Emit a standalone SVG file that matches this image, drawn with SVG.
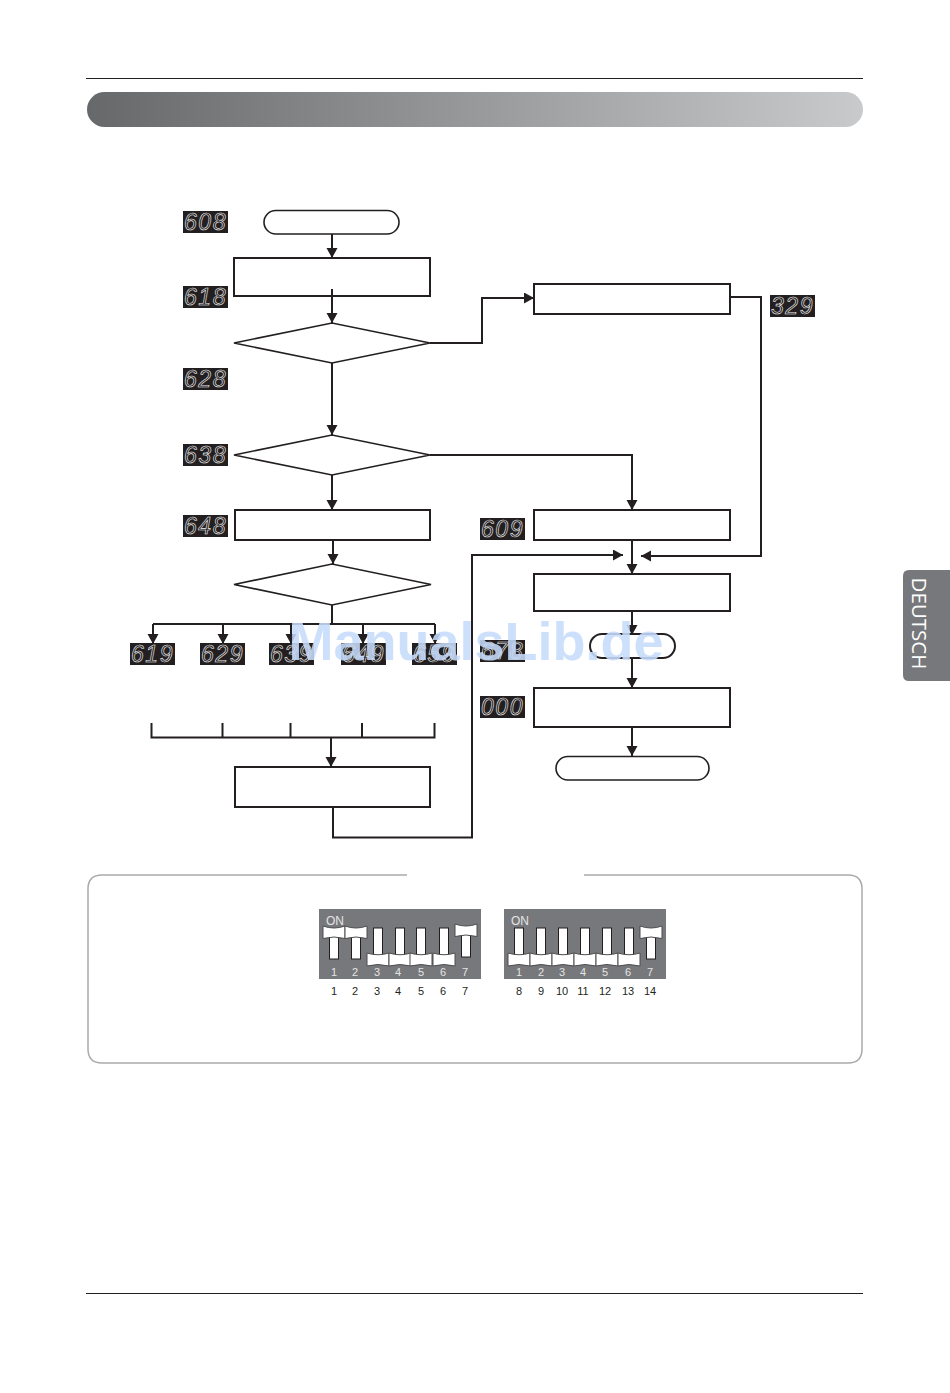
<svg xmlns="http://www.w3.org/2000/svg" width="950" height="1393" viewBox="0 0 950 1393">
<defs>
<linearGradient id="hg" x1="0" x2="1" y1="0" y2="0"><stop offset="0" stop-color="#67686a"/><stop offset="1" stop-color="#c9cacc"/></linearGradient>
<marker id="ah" markerUnits="userSpaceOnUse" markerWidth="12" markerHeight="12" refX="10" refY="5.500" orient="auto"><path d="M0 0L10 5.500L0 11Z" fill="#231f20"/></marker>
<g id="sw-on"><rect x="-4.500" y="8" width="9" height="23" fill="#fff" stroke="#231f20" stroke-width="1"/><path d="M-11 -2Q0 2 11 -2V10.500Q0 7.500 -11 10.500Z" fill="#fff" stroke="#4d4d4f" stroke-width="1"/></g>
<g id="sw-off"><rect x="-4.500" y="0" width="9" height="28" fill="#fff" stroke="#231f20" stroke-width="1"/><path d="M-11 25Q0 28.500 11 25V38Q0 35 -11 38Z" fill="#fff" stroke="#4d4d4f" stroke-width="1"/></g>
</defs>
<style>
.n{fill:#fff;stroke:#231f20;stroke-width:2}
.t{fill:#fff;stroke:#231f20;stroke-width:1.600}
.c{fill:none;stroke:#231f20;stroke-width:2}
.a{marker-end:url(#ah)}
.bg{fill:#231f20}
.bt{font-family:"Liberation Sans Narrow","Liberation Sans",sans-serif;font-style:italic;font-size:23px;letter-spacing:1.500px;fill:#231f20;stroke:#f4f4f4;stroke-width:.6;text-anchor:middle;opacity:.99}
.d{font-family:"Liberation Sans",sans-serif;font-size:11px;text-anchor:middle}
.on{font-size:12px}
.dw{fill:#e4e4e6}
.dk{fill:#231f20}
</style>
<rect width="950" height="1393" fill="#fff"/>
<g id="page">
<path d="M86 78.500H863M86 1293.500H863" stroke="#231f20" stroke-width="1"/>
<rect x="87" y="92" width="776" height="35" rx="17.500" fill="url(#hg)"/>
<path id="notebox" d="M407 875H102Q88 875 88 889V1049Q88 1063 102 1063H848Q862 1063 862 1049V889Q862 875 848 875H584" fill="none" stroke="#a9aaac" stroke-width="1.500"/>
<g id="tab"><path d="M950 570H909Q903 570 903 576V675Q903 681 909 681H950Z" fill="#77787b"/>
<text transform="translate(912 623.500) rotate(90)" font-family="'Open Sans','Liberation Sans',sans-serif" font-size="20.500" fill="#fff" text-anchor="middle">DEUTSCH</text></g>
</g>
<g id="connectors">
<path class="c a" d="M332 234V258"/>
<path class="c a" d="M332 289V323"/>
<path class="c a" d="M332 363V435"/>
<path class="c a" d="M332 475V510"/>
<path class="c a" d="M333 540V564"/>
<path class="c" d="M332 605V624"/>
<path class="c" d="M153 624H435"/>
<path class="c a" d="M153 624V644"/>
<path class="c a" d="M223 624V644"/>
<path class="c a" d="M291 624V644"/>
<path class="c a" d="M363 624V644"/>
<path class="c a" d="M435 624V644"/>
<path class="c" d="M151.500 723V737.500H434.500V723M222.500 723V737M290.500 723V737M362 723V737" stroke-width="1.600"/>
<path class="c a" d="M331 737V767"/>
<path class="c a" d="M430 343H482V298H534"/>
<path class="c a" d="M430 455H632V510"/>
<path class="c a" d="M333 807V837.500H472V555H623"/>
<path class="c a" d="M730 297H761V556H641"/>
<path class="c a" d="M632 540V574"/>
<path class="c a" d="M632 611V635"/>
<path class="c a" d="M632 657V688"/>
<path class="c a" d="M632 727V756"/>
</g>
<g id="start"><rect class="t" x="264" y="210.500" width="135" height="23.500" rx="11.750"/></g>
<g id="box1"><rect class="n" x="234" y="258" width="196" height="38" fill-opacity="0"/></g>
<g id="dec1"><polygon class="t" points="234,343 332,323 430,343 332,363"/></g>
<g id="dec2"><polygon class="t" points="234,455 332,435 430,455 332,475"/></g>
<g id="box2"><rect class="n" x="235" y="510" width="195" height="30"/></g>
<g id="dec3"><polygon class="t" points="234,584.500 332,564 431,584.500 332,605"/></g>
<g id="box3"><rect class="n" x="235" y="767" width="195" height="40"/></g>
<g id="box4"><rect class="n" x="534" y="284" width="196" height="30"/></g>
<g id="box5"><rect class="n" x="534" y="510" width="196" height="30"/></g>
<g id="box6"><rect class="n" x="534" y="574" width="196" height="37"/></g>
<g id="pill1"><rect class="c" x="590" y="634" width="85" height="24" rx="12" stroke-width="1.600"/></g>
<g id="box7"><rect class="n" x="534" y="688" width="196" height="39"/></g>
<g id="end"><rect class="t" x="556" y="756.500" width="153" height="23.500" rx="11.750"/></g>
<g id="badges">
<rect class="bg" x="183" y="211" width="45" height="22"/><text class="bt" x="205.500" y="230">608</text>
<rect class="bg" x="183" y="286" width="45" height="22"/><text class="bt" x="205.500" y="305">618</text>
<rect class="bg" x="183" y="368" width="45" height="22"/><text class="bt" x="205.500" y="387">628</text>
<rect class="bg" x="183" y="444" width="45" height="22"/><text class="bt" x="205.500" y="463">638</text>
<rect class="bg" x="183" y="515" width="45" height="22"/><text class="bt" x="205.500" y="534">648</text>
<rect class="bg" x="770" y="295" width="45" height="22"/><text class="bt" x="792.500" y="314">329</text>
<rect class="bg" x="480" y="518" width="45" height="22"/><text class="bt" x="502.500" y="537">609</text>
<rect class="bg" x="130" y="643" width="45" height="22"/><text class="bt" x="152.500" y="662">619</text>
<rect class="bg" x="200" y="643" width="45" height="22"/><text class="bt" x="222.500" y="662">629</text>
<rect class="bg" x="269" y="643" width="45" height="22"/><text class="bt" x="291.500" y="662">639</text>
<rect class="bg" x="341" y="643" width="45" height="22"/><text class="bt" x="363.500" y="662">649</text>
<rect class="bg" x="412" y="643" width="45" height="22"/><text class="bt" x="434.500" y="662">659</text>
<rect class="bg" x="480" y="640" width="45" height="22"/><text class="bt" x="502.500" y="659">678</text>
<rect class="bg" x="480" y="696" width="45" height="22"/><text class="bt" x="502.500" y="715">000</text>
</g>
<g id="dip1">
<rect x="319" y="909" width="162" height="70" fill="#77787b"/>
<text class="d dw on" x="335" y="925">ON</text>
<use href="#sw-on" x="334" y="928"/><use href="#sw-on" x="356" y="928"/><use href="#sw-off" x="378" y="928"/><use href="#sw-off" x="400" y="928"/><use href="#sw-off" x="421" y="928"/><use href="#sw-off" x="444" y="928"/><use href="#sw-on" x="466" y="926"/>
<g class="d dw"><text x="334" y="976">1</text><text x="355" y="976">2</text><text x="377" y="976">3</text><text x="398" y="976">4</text><text x="421" y="976">5</text><text x="443" y="976">6</text><text x="465" y="976">7</text></g>
<g class="d dk"><text x="334" y="995">1</text><text x="355" y="995">2</text><text x="377" y="995">3</text><text x="398" y="995">4</text><text x="421" y="995">5</text><text x="443" y="995">6</text><text x="465" y="995">7</text></g>
</g>
<g id="dip2">
<rect x="504" y="909" width="162" height="70" fill="#77787b"/>
<text class="d dw on" x="520" y="925">ON</text>
<use href="#sw-off" x="519" y="928"/><use href="#sw-off" x="541" y="928"/><use href="#sw-off" x="563" y="928"/><use href="#sw-off" x="585" y="928"/><use href="#sw-off" x="607" y="928"/><use href="#sw-off" x="629" y="928"/><use href="#sw-on" x="651" y="928"/>
<g class="d dw"><text x="519" y="976">1</text><text x="541" y="976">2</text><text x="562" y="976">3</text><text x="583" y="976">4</text><text x="605" y="976">5</text><text x="628" y="976">6</text><text x="650" y="976">7</text></g>
<g class="d dk"><text x="519" y="995">8</text><text x="541" y="995">9</text><text x="562" y="995">10</text><text x="583" y="995">11</text><text x="605" y="995">12</text><text x="628" y="995">13</text><text x="650" y="995">14</text></g>
</g>
<text id="watermark" x="476" y="660" font-family="'Liberation Sans',sans-serif" font-weight="bold" font-size="54" fill="#c6dcfa" fill-opacity=".88" text-anchor="middle">ManualsLib.de</text>
</svg>
